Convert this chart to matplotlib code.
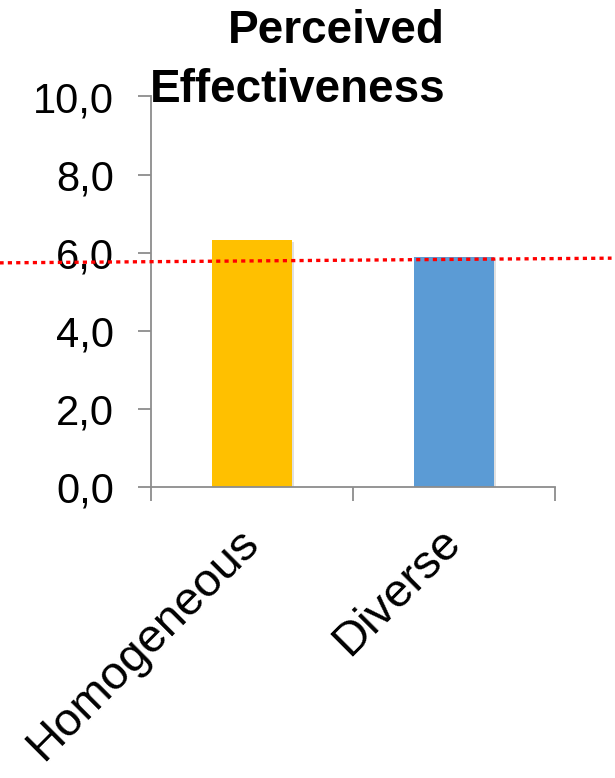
import numpy as np
import matplotlib.pyplot as plt
import matplotlib.patheffects as pe
from matplotlib.transforms import ScaledTranslation

plt.rcParams["font.family"] = ["Liberation Sans", "DejaVu Sans"]

groups = ["Homogeneous", "Diverse"]
scores = [6.33, 5.88]
colors = ["#FFC000", "#5B9BD5"]
yticks = [0, 2, 4, 6, 8, 10]
# red dotted reference line, value at its left and right ends
ref_x = [-1.25, 1.78]
ref_y = [5.74, 5.86]

fig = plt.figure(figsize=(6.15, 7.78), dpi=100)
ax = fig.add_axes([151 / 615, 1 - 487 / 778, 404 / 615, 390.5 / 778])

x = np.arange(len(groups))
bars = ax.bar(x, scores, width=0.4, color=colors, zorder=2)
for b in bars:
    b.set_path_effects([pe.SimplePatchShadow(offset=(1.5, -1.5), shadow_rgbFace="#999999", alpha=0.3), pe.Normal()])

ax.set_xlim(-0.5, 1.5)
ax.set_ylim(0, 10)
ax.set_yticks(yticks)
ax.set_yticklabels([f"{v:.1f}".replace(".", ",") for v in yticks], fontsize=30)

# category separators on the x axis
ax.set_xticks([-0.5, 0.5, 1.5])
ax.set_xticklabels([])
ax.tick_params(axis="x", length=10, width=1.3, color="#8c8c8c", direction="out")
ax.tick_params(axis="y", length=9.5, width=1.3, color="#8c8c8c", direction="out", pad=17)

# rotated category names, anchored at the end of their baseline
shift = ScaledTranslation(8 / 100, -57 / 100, fig.dpi_scale_trans)
for xi, name in zip(x, groups):
    ax.text(xi, 0, name, transform=ax.get_xaxis_transform() + shift, rotation=45,
            rotation_mode="anchor", ha="right", va="baseline", fontsize=34)

for s in ["top", "right"]:
    ax.spines[s].set_visible(False)
for s in ["left", "bottom"]:
    ax.spines[s].set_color("#8c8c8c")
    ax.spines[s].set_linewidth(1.3)

ax.plot(ref_x, ref_y, color="#FF0000", lw=2.4, linestyle=(0, (1.25, 1.25)),
        solid_capstyle="butt", dash_capstyle="butt", clip_on=False, zorder=5)

# two-line title, right aligned
for line, base in [("Perceived", 43), ("Effectiveness", 102)]:
    fig.text(445 / 615, 1 - base / 778, line, ha="right", va="baseline",
             fontsize=33, fontweight="bold")

fig.savefig("out.png", dpi=100)
